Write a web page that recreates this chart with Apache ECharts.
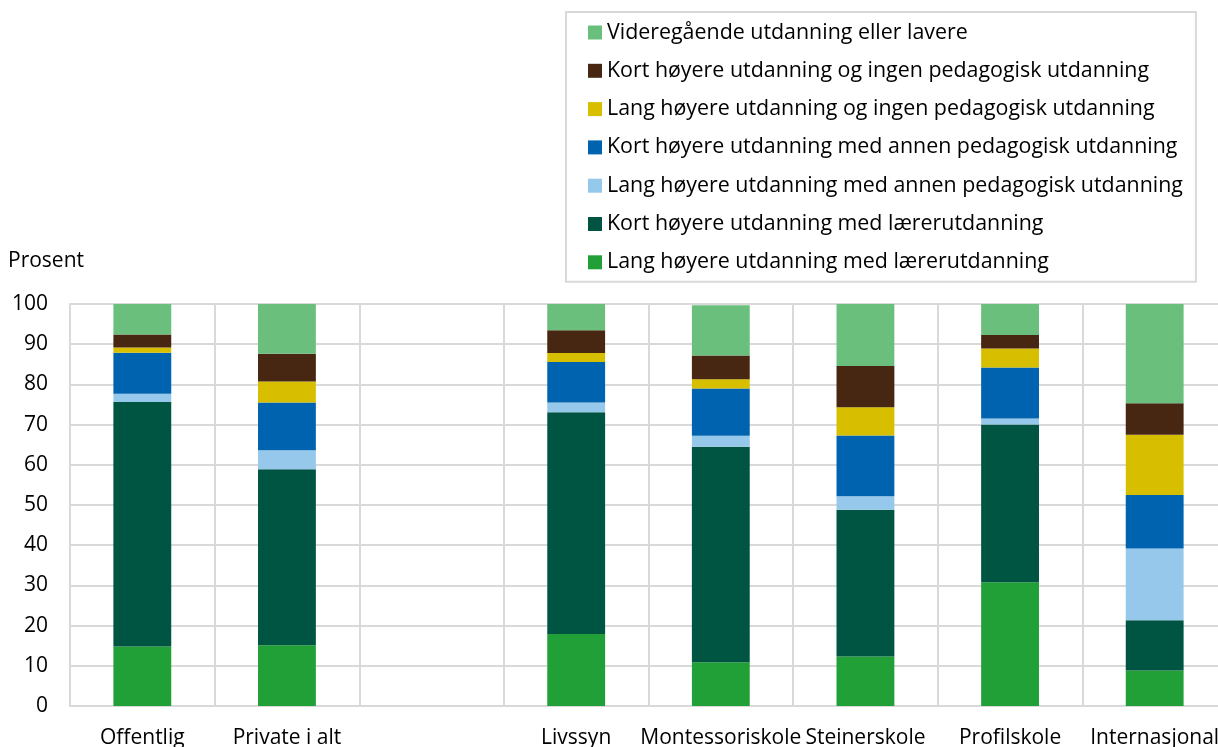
<!DOCTYPE html>
<html>
<head>
<meta charset="utf-8">
<script src="https://cdn.jsdelivr.net/npm/echarts@6/dist/echarts.min.js"></script>
<style>html,body{margin:0;padding:0;background:#fff;overflow:hidden;width:1218px;height:747px;}#c{width:1227px;height:747px;}</style>
</head>
<body>
<div id="c"></div>
<script>
const categories = ['Offentlig', 'Private i alt', '', 'Livssyn', 'Montessoriskole', 'Steinerskole', 'Profilskole', 'Internasjonal'];
const yTicks = [0, 10, 20, 30, 40, 50, 60, 70, 80, 90, 100];
const seriesNames = [
  'Lang høyere utdanning med lærerutdanning',
  'Kort høyere utdanning med lærerutdanning',
  'Lang høyere utdanning med annen pedagogisk utdanning',
  'Kort høyere utdanning med annen pedagogisk utdanning',
  'Lang høyere utdanning og ingen pedagogisk utdanning',
  'Kort høyere utdanning og ingen pedagogisk utdanning',
  'Videregående utdanning eller lavere'
];
const langLaerer = [14.8, 15.1, null, 17.9, 10.9, 12.3, 30.8, 8.8];
const kortLaerer = [60.8, 43.8, null, 55.2, 53.6, 36.5, 39.2, 12.5];
const langAnnen  = [2.1, 4.7, null, 2.4, 2.7, 3.4, 1.5, 17.9];
const kortAnnen  = [10.2, 11.9, null, 10.1, 11.8, 15.1, 12.7, 13.3];
const langIngen  = [1.3, 5.2, null, 2.2, 2.3, 7.0, 4.7, 15.0];
const kortIngen  = [3.2, 6.9, null, 5.7, 5.9, 10.3, 3.4, 7.8];
const vgs        = [7.6, 12.4, null, 6.5, 12.5, 15.4, 7.7, 24.7];

const seriesData = [langLaerer, kortLaerer, langAnnen, kortAnnen, langIngen, kortIngen, vgs];
const colors = ['#21A038', '#005442', '#96C8EC', '#0063AF', '#D7BF00', '#472612', '#6ABF7C'];

const FONT = 'Open Sans';
const FS = 21;
const chart = echarts.init(document.getElementById('c'), null, {renderer: 'canvas'});
chart.setOption({
  animation: false,
  textStyle: {fontFamily: FONT},
  title: {
    text: 'Prosent', left: 8, top: 251, padding: [0, 0, 0, 0],
    textStyle: {fontFamily: FONT, fontSize: FS, fontWeight: 'normal', color: '#000'}
  },
  legend: {
    orient: 'vertical',
    left: 566, top: 12,
    padding: [10, 13, 9, 22],
    itemWidth: 14, itemHeight: 14, itemGap: 17.3,
    borderColor: '#d9d9d9', borderWidth: 2,
    backgroundColor: '#fff',
    icon: 'rect',
    textStyle: {fontFamily: FONT, fontSize: 21.4, color: '#000'},
    data: seriesNames.slice().reverse()
  },
  grid: {left: 70, right: 0, top: 304, bottom: 41, containLabel: false, outerBoundsMode: 'none'},
  xAxis: {
    type: 'category',
    data: categories,
    axisLine: {show: true, lineStyle: {color: '#d9d9d9', width: 2}},
    axisTick: {show: false},
    splitLine: {show: true, lineStyle: {color: '#d9d9d9', width: 2}},
    axisLabel: {fontFamily: FONT, fontSize: FS, color: '#000', margin: 22, interval: 0}
  },
  yAxis: {
    type: 'value', min: 0, max: 100, interval: 10,
    axisLine: {show: true, lineStyle: {color: '#d9d9d9', width: 2}},
    axisTick: {show: false},
    splitLine: {show: true, lineStyle: {color: '#d9d9d9', width: 2}},
    axisLabel: {fontFamily: FONT, fontSize: FS, color: '#000', margin: 22,
      formatter: v => yTicks.includes(v) ? String(v) : ''}
  },
  series: seriesNames.map((n, i) => ({
    name: n, type: 'bar', stack: 'total', barWidth: '40%',
    itemStyle: {color: colors[i]},
    data: seriesData[i]
  }))
});
</script>
</body>
</html>
